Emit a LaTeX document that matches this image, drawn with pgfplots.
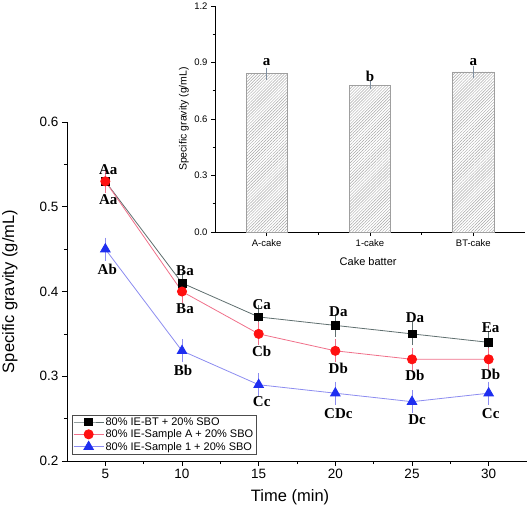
\documentclass[border=0pt]{standalone}
\usepackage{fontspec}
\setmainfont{Liberation Sans}
\newfontfamily\tnr{Liberation Serif}
\usepackage{pgfplots}
\pgfplotsset{compat=1.18}
\usetikzlibrary{patterns.meta}

\definecolor{bkline}{HTML}{5F6F6F}
\definecolor{rdline}{HTML}{F0708A}
\definecolor{blline}{HTML}{8C8CF0}
\definecolor{rdmark}{HTML}{FF1010}
\definecolor{blmark}{HTML}{1E2EF0}
\definecolor{barerr}{HTML}{7F8FA0}

\pgfplotstableread{
x y e
5 0.53 0.01
10 0.41 0.01
15 0.37 0.01
20 0.36 0.01
25 0.35 0.01
30 0.34 0.01
}\bt
\pgfplotstableread{
x y e
5 0.53 0.01
10 0.40 0.01
15 0.35 0.01
20 0.33 0.01
25 0.32 0.01
30 0.32 0.01
}\sa
\pgfplotstableread{
x y e
5 0.45 0.01
10 0.33 0.01
15 0.29 0.01
20 0.28 0.01
25 0.27 0.01
30 0.28 0.01
}\sone
\pgfplotstableread{
x y e
1 0.84 0.02
2 0.78 0.01
3 0.85 0.02
}\cake

\tikzset{lab/.style={font=\tnr\bfseries\fontsize{15}{15}\selectfont, anchor=center, inner sep=0pt}}

\begin{document}
\begin{tikzpicture}
\useasboundingbox (-67pt,-46pt) rectangle (462pt,461pt);
\begin{axis}[
  at={(0pt,0pt)}, anchor=south west,
  scale only axis, width=460pt, height=339pt,
  xmin=2.5, xmax=32.5, ymin=0.2, ymax=0.6,
  axis x line=bottom, axis y line=left,
  axis line style={-, line width=0.8pt},
  xtick={5,10,15,20,25,30}, ytick={0.2,0.3,0.4,0.5,0.6},
  minor x tick num=1, minor y tick num=1,
  tick align=outside,
  major tick length=5pt, minor tick length=3pt,
  every tick/.style={black, line width=0.7pt},
  tick label style={font=\fontsize{13.5}{15}\selectfont},
  /pgf/number format/assume math mode=true,
  yticklabel style={/pgf/number format/.cd, fixed, fixed zerofill, precision=1},
  xlabel={Time (min)}, ylabel={Specific gravity (g/mL)},
  label style={font=\fontsize{16.5}{19}\selectfont},
  xlabel style={at={(axis description cs:0.485,0)}, anchor=center, yshift=-36pt},
  ylabel style={at={(axis description cs:-0.124,0.5)}, anchor=center},
  legend style={at={(axis description cs:0.011,0.02)}, anchor=south west,
    draw=black!70, font=\fontsize{11}{13}\selectfont, inner sep=1pt,
    nodes={inner sep=1.5pt}},
  legend cell align=left,
  clip=false,
]
\addplot[bkline, line width=0.8pt, mark=square*, mark size=3.9pt,
  mark options={fill=black, draw=black},
  legend image code/.code={\draw[mark repeat=2,mark phase=2] plot coordinates {(0pt,0pt)(15pt,0pt)(30pt,0pt)};},
  error bars/.cd, y dir=both, y explicit,
  error bar style={bkline, line width=0.6pt}, error mark options={bkline, mark size=3pt}]
  table[x=x, y=y, y error=e] {\bt};
\addlegendentry{80\% IE-BT + 20\% SBO}
\addplot[rdline, line width=0.8pt, mark=*, mark size=4.6pt,
  mark options={fill=rdmark, draw=rdmark},
  legend image code/.code={\draw[mark repeat=2,mark phase=2] plot coordinates {(0pt,0pt)(15pt,0pt)(30pt,0pt)};},
  error bars/.cd, y dir=both, y explicit,
  error bar style={rdline, line width=0.6pt}, error mark options={rdline, mark size=3pt}]
  table[x=x, y=y, y error=e] {\sa};
\addlegendentry{80\% IE-Sample A + 20\% SBO}
\addplot[blline, line width=0.8pt, mark=triangle*, mark size=5.5pt,
  mark options={fill=blmark, draw=blmark},
  legend image code/.code={\draw[mark repeat=2,mark phase=2] plot coordinates {(0pt,0pt)(15pt,0pt)(30pt,0pt)};},
  error bars/.cd, y dir=both, y explicit,
  error bar style={blline, line width=0.6pt}, error mark options={blline, mark size=3pt}]
  table[x=x, y=y, y error=e] {\sone};
\addlegendentry{80\% IE-Sample 1 + 20\% SBO}

\node[lab, xshift=3pt, yshift=12pt] at (axis cs:5,0.53) {Aa};
\node[lab, xshift=3pt, yshift=-18pt] at (axis cs:5,0.53) {Aa};
\node[lab, xshift=2pt, yshift=-20pt] at (axis cs:5,0.45) {Ab};
\node[lab, xshift=3pt, yshift=12pt] at (axis cs:10,0.41) {Ba};
\node[lab, xshift=3pt, yshift=-17pt] at (axis cs:10,0.40) {Ba};
\node[lab, xshift=1pt, yshift=-20pt] at (axis cs:10,0.33) {Bb};
\node[lab, xshift=3pt, yshift=12pt] at (axis cs:15,0.37) {Ca};
\node[lab, xshift=3pt, yshift=-17pt] at (axis cs:15,0.35) {Cb};
\node[lab, xshift=3pt, yshift=-17pt] at (axis cs:15,0.29) {Cc};
\node[lab, xshift=3pt, yshift=14pt] at (axis cs:20,0.36) {Da};
\node[lab, xshift=3pt, yshift=-18pt] at (axis cs:20,0.33) {Db};
\node[lab, xshift=3pt, yshift=-20pt] at (axis cs:20,0.28) {CDc};
\node[lab, xshift=3pt, yshift=16pt] at (axis cs:25,0.35) {Da};
\node[lab, xshift=3pt, yshift=-16pt] at (axis cs:25,0.32) {Db};
\node[lab, xshift=5pt, yshift=-18pt] at (axis cs:25,0.27) {Dc};
\node[lab, xshift=2pt, yshift=15pt] at (axis cs:30,0.34) {Ea};
\node[lab, xshift=2pt, yshift=-15pt] at (axis cs:30,0.32) {Db};
\node[lab, xshift=2pt, yshift=-20pt] at (axis cs:30,0.28) {Cc};
\end{axis}

\begin{axis}[
  at={(148pt,229pt)}, anchor=south west,
  scale only axis, width=310pt, height=226pt,
  xmin=0.5, xmax=3.5, ymin=0, ymax=1.2,
  axis x line=bottom, axis y line=left,
  axis line style={-, line width=0.8pt},
  ytick={0,0.3,0.6,0.9,1.2}, minor y tick num=1,
  xtick={1,2,3}, xticklabels={A-cake,1-cake,BT-cake}, minor xtick={1.5,2.5},
  tick align=outside,
  major tick length=4pt, minor tick length=2.5pt,
  every tick/.style={black, line width=0.6pt},
  tick label style={font=\fontsize{9.5}{11}\selectfont},
  /pgf/number format/assume math mode=true,
  yticklabel style={/pgf/number format/.cd, fixed, fixed zerofill, precision=1},
  xlabel={Cake batter}, ylabel={Specific gravity (g/mL)},
  xlabel style={font=\fontsize{11}{13}\selectfont, at={(axis description cs:0.494,0)}, anchor=center, yshift=-30pt},
  ylabel style={font=\fontsize{10.5}{12}\selectfont, at={(axis description cs:-0.1,0.5)}, anchor=center},
  ybar, bar width=0.4,
  clip=false,
]
\addplot[draw=gray!75, line width=0.6pt,
  pattern={Lines[angle=45, distance=2.1pt, line width=0.45pt]}, pattern color=gray!70,
  error bars/.cd, y dir=both, y explicit,
  error bar style={barerr, line width=0.6pt}, error mark options={barerr, mark size=2.5pt}]
  table[x=x, y=y, y error=e] {\cake};
\node[lab, font=\tnr\bfseries\fontsize{15}{15}\selectfont, yshift=12pt] at (axis cs:1,0.84) {a};
\node[lab, font=\tnr\bfseries\fontsize{15}{15}\selectfont, yshift=9pt] at (axis cs:2,0.78) {b};
\node[lab, font=\tnr\bfseries\fontsize{15}{15}\selectfont, yshift=10pt] at (axis cs:3,0.85) {a};
\end{axis}
\end{tikzpicture}
\end{document}
